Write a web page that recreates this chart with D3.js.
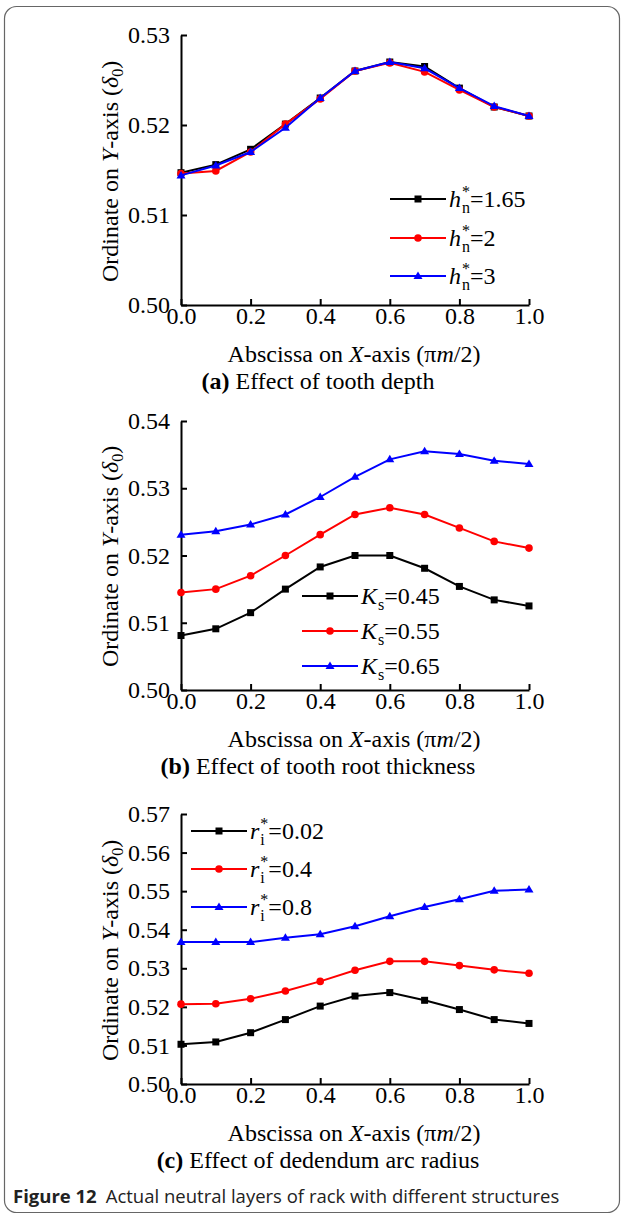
<!DOCTYPE html>
<html><head><meta charset="utf-8">
<script src="https://cdn.jsdelivr.net/npm/d3@7"></script>
<style>body{margin:0;background:#fff}svg{display:block}</style>
</head><body><svg id="c" width="624" height="1218"></svg>
<script>
// ---- data ----
const xValues = [0.0,0.1,0.2,0.3,0.4,0.5,0.6,0.7,0.8,0.9,1.0];
const xTicks = [0.0,0.2,0.4,0.6,0.8,1.0];

// (a) effect of tooth depth
const depthH165 = [0.5147,0.5156,0.5173,0.5201,0.5230,0.5260,0.5270,0.5265,0.5241,0.5220,0.5210];
const depthH2   = [0.5146,0.5149,0.5170,0.5201,0.5229,0.5260,0.5269,0.5259,0.5239,0.5220,0.5210];
const depthH3   = [0.5144,0.5155,0.5170,0.5197,0.5230,0.5260,0.5270,0.5263,0.5241,0.5221,0.5210];
const yTicksA = [0.50,0.51,0.52,0.53];

// (b) effect of tooth root thickness
const rootK045 = [0.5081,0.5091,0.5115,0.5150,0.5183,0.5200,0.5200,0.5181,0.5154,0.5134,0.5125];
const rootK055 = [0.5145,0.5150,0.5170,0.5200,0.5231,0.5261,0.5271,0.5261,0.5241,0.5221,0.5211];
const rootK065 = [0.5231,0.5236,0.5246,0.5261,0.5287,0.5317,0.5343,0.5355,0.5351,0.5341,0.5336];
const yTicksB = [0.50,0.51,0.52,0.53,0.54];

// (c) effect of dedendum arc radius
const arcR002 = [0.5103,0.5109,0.5133,0.5167,0.5202,0.5228,0.5237,0.5217,0.5193,0.5167,0.5157];
const arcR04  = [0.5207,0.5208,0.5221,0.5241,0.5266,0.5295,0.5318,0.5318,0.5307,0.5296,0.5287];
const arcR08  = [0.5368,0.5368,0.5368,0.5379,0.5388,0.5409,0.5435,0.5459,0.5479,0.5501,0.5504];
const yTicksC = [0.50,0.51,0.52,0.53,0.54,0.55,0.56,0.57];

const seriesColors = ["#000000","#ff0000","#0000ff"];
const seriesMarkers = ["square","circle","triangle"];

// legend labels: [main italic, superscript, subscript, rest]
const legendA = [["h","*","n","=1.65"],["h","*","n","=2"],["h","*","n","=3"]];
const legendB = [["K","","s","=0.45"],["K","","s","=0.55"],["K","","s","=0.65"]];
const legendC = [["r","*","i","=0.02"],["r","*","i","=0.4"],["r","*","i","=0.8"]];

const subtitles = [["(a)"," Effect of tooth depth"],["(b)"," Effect of tooth root thickness"],["(c)"," Effect of dedendum arc radius"]];

// ---- layout ----
const svg = d3.select("#c");
const SERIF = "'Liberation Serif','Times New Roman',serif";
svg.append("rect").attr("x",4.5).attr("y",6.5).attr("width",615).attr("height",1206)
  .attr("rx",12).attr("fill","none").attr("stroke","#666").attr("stroke-width",1.2);

const panels = [
  {series:[depthH165,depthH2,depthH3], yTicks:yTicksA, top:35, bottom:305, legend:legendA, lx:390, ly:[199,238,276], sub:subtitles[0]},
  {series:[rootK045,rootK055,rootK065], yTicks:yTicksB, top:421, bottom:690, legend:legendB, lx:302, ly:[596,631,666], sub:subtitles[1]},
  {series:[arcR002,arcR04,arcR08], yTicks:yTicksC, top:814, bottom:1084, legend:legendC, lx:191, ly:[831,869,907], sub:subtitles[2]},
];

function marker(g, type, x, y, color){
  if(type==="square") g.append("rect").attr("x",x-3.5).attr("y",y-3.5).attr("width",7).attr("height",7).attr("fill",color);
  else if(type==="circle") g.append("circle").attr("cx",x).attr("cy",y).attr("r",3.8).attr("fill",color);
  else g.append("path").attr("d",`M${x},${y-4.5}L${x+4.5},${y+3}L${x-4.5},${y+3}Z`).attr("fill",color);
}

panels.forEach(p=>{
  const x = d3.scaleLinear().domain([0,1]).range([181,529]);
  const y = d3.scaleLinear().domain([p.yTicks[0],p.yTicks[p.yTicks.length-1]]).range([p.bottom,p.top]);
  const g = svg.append("g");

  // axes
  const xa = g.append("g").attr("transform",`translate(0,${p.bottom})`)
    .call(d3.axisBottom(x).tickValues(xTicks).tickFormat(d3.format(".1f")).tickSizeInner(-6).tickSizeOuter(0).tickPadding(2));
  const ya = g.append("g").attr("transform",`translate(181,0)`)
    .call(d3.axisLeft(y).tickValues(p.yTicks).tickFormat(d3.format(".2f")).tickSizeInner(-6).tickSizeOuter(0).tickPadding(11));
  [xa,ya].forEach(a=>{
    a.selectAll("path,line").attr("stroke","#000").attr("stroke-width",2);
    a.selectAll("text").attr("font-family",SERIF).attr("font-size",24).attr("fill","#000");
  });

  // lines
  const line = d3.line().x((d,i)=>x(xValues[i])).y(d=>y(d));
  p.series.forEach((s,k)=>{
    g.append("path").datum(s).attr("d",line).attr("fill","none").attr("stroke",seriesColors[k]).attr("stroke-width",2);
    s.forEach((v,i)=>marker(g,seriesMarkers[k],x(xValues[i]),y(v),seriesColors[k]));
  });

  // legend
  p.legend.forEach((lab,k)=>{
    const ly = p.ly[k];
    g.append("line").attr("x1",p.lx).attr("x2",p.lx+56).attr("y1",ly).attr("y2",ly).attr("stroke",seriesColors[k]).attr("stroke-width",2);
    marker(g,seriesMarkers[k],p.lx+28,ly,seriesColors[k]);
    let tx = p.lx+59, base = ly+8;
    const t1 = g.append("text").attr("x",tx).attr("y",base).attr("font-family",SERIF).attr("font-size",24).attr("font-style","italic").text(lab[0]);
    tx += t1.node().getComputedTextLength()+1;
    let w = 0;
    if(lab[1]){ const t2=g.append("text").attr("x",tx).attr("y",base-10).attr("font-family",SERIF).attr("font-size",16).text(lab[1]); w=Math.max(w,t2.node().getComputedTextLength()); }
    if(lab[2]){ const t3=g.append("text").attr("x",tx).attr("y",base+6).attr("font-family",SERIF).attr("font-size",16).text(lab[2]); w=Math.max(w,t3.node().getComputedTextLength()); }
    tx += w;
    g.append("text").attr("x",tx).attr("y",base).attr("font-family",SERIF).attr("font-size",24).text(lab[3]);
  });

  // x title
  const xt = g.append("text").attr("x",354).attr("y",p.bottom+57).attr("text-anchor","middle")
    .attr("font-family",SERIF).attr("font-size",24);
  xt.append("tspan").text("Abscissa on ");
  xt.append("tspan").attr("font-style","italic").text("X");
  xt.append("tspan").text("-axis (\u03c0");
  xt.append("tspan").attr("font-style","italic").text("m");
  xt.append("tspan").text("/2)");

  // subtitle
  const st = g.append("text").attr("x",318).attr("y",p.bottom+84).attr("text-anchor","middle")
    .attr("font-family",SERIF).attr("font-size",24);
  st.append("tspan").attr("font-weight","bold").text(p.sub[0]);
  st.append("tspan").text(p.sub[1]);

  // y title
  const yt = g.append("text").attr("transform",`translate(118,${p.bottom-23}) rotate(-90)`)
    .attr("font-family",SERIF).attr("font-size",24);
  yt.append("tspan").text("Ordinate on ");
  yt.append("tspan").attr("font-style","italic").text("Y");
  yt.append("tspan").text("-axis (");
  yt.append("tspan").attr("font-style","italic").text("\u03b4");
  yt.append("tspan").attr("font-size",16).attr("dy",5).text("0");
  yt.append("tspan").attr("dy",-5).text(")");
});

// caption
const cap = svg.append("text").attr("x",13).attr("y",1203).attr("font-family","'Open Sans','Noto Sans',sans-serif").attr("font-size",18.5).attr("fill","#222");
cap.append("tspan").attr("font-weight","bold").text("Figure 12");
cap.append("tspan").attr("dx",9).text("Actual neutral layers of rack with different structures");
</script></body></html>
